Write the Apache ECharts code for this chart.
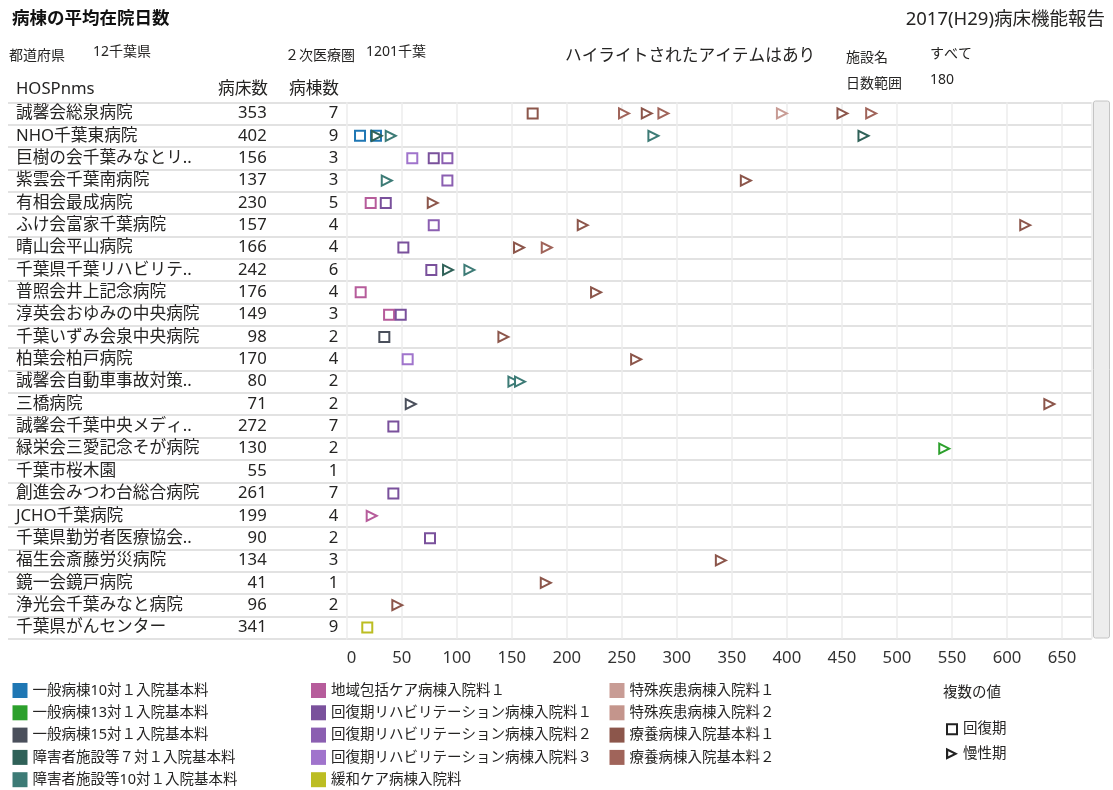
<!DOCTYPE html>
<html>
<head>
<meta charset="utf-8">
<script src="https://cdn.jsdelivr.net/npm/echarts@6/dist/echarts.min.js"></script>
<style>
  html, body { margin: 0; padding: 0; background: #fff; }
  #chart { width: 1113px; height: 790px; }
</style>
</head>
<body>
<div id="chart"></div>
<script>
// 施設一覧（表の行）
var hospitals = ['誠馨会総泉病院', 'NHO千葉東病院', '巨樹の会千葉みなとリ..', '紫雲会千葉南病院', '有相会最成病院',
  'ふけ会富家千葉病院', '晴山会平山病院', '千葉県千葉リハビリテ..', '普照会井上記念病院', '淳英会おゆみの中央病院',
  '千葉いずみ会泉中央病院', '柏葉会柏戸病院', '誠馨会自動車事故対策..', '三橋病院', '誠馨会千葉中央メディ..',
  '緑栄会三愛記念そが病院', '千葉市桜木園', '創進会みつわ台総合病院', 'JCHO千葉病院', '千葉県勤労者医療協会..',
  '福生会斎藤労災病院', '鏡一会鏡戸病院', '浄光会千葉みなと病院', '千葉県がんセンター']
var bedCounts = [353, 402, 156, 137, 230, 157, 166, 242, 176, 149, 98, 170, 80, 71, 272, 130, 55, 261, 199, 90, 134, 41, 96, 341]
var wardCounts = [7, 9, 3, 3, 5, 4, 4, 6, 4, 3, 2, 4, 2, 2, 7, 2, 1, 7, 4, 2, 3, 1, 2, 9]

// 入院料の区分と色
var categories = ['一般病棟10対１入院基本料', '一般病棟13対１入院基本料', '一般病棟15対１入院基本料',
  '障害者施設等７対１入院基本料', '障害者施設等10対１入院基本料', '地域包括ケア病棟入院料１',
  '回復期リハビリテーション病棟入院料１', '回復期リハビリテーション病棟入院料２', '回復期リハビリテーション病棟入院料３',
  '緩和ケア病棟入院料', '特殊疾患病棟入院料１', '特殊疾患病棟入院料２', '療養病棟入院基本料１', '療養病棟入院基本料２']
var categoryColors = ['#1f77b4', '#2ca02c', '#4a4f5b', '#2f6158', '#3d7b76', '#b65c9b',
  '#7a519c', '#8b5fb1', '#a074cc', '#bcbd22', '#c89c95', '#c4958c', '#8c564b', '#a0645a']

var phases = ['回復期', '慢性期']

// [平均在院日数, 施設番号, 0=回復期 1=慢性期]
var ippan10 = [[12.1, 1, 0], [26.6, 1, 0]]
var ippan13 = [[543, 15, 1]]
var ippan15 = [[34.2, 10, 0], [58.2, 13, 1]]
var shogai7 = [[27.3, 1, 1], [469.6, 1, 1], [92.1, 7, 1]]
var shogai10 = [[40, 1, 1], [278.7, 1, 1], [36.4, 3, 1], [111.5, 7, 1], [151.5, 12, 1], [157.5, 12, 1]]
var chiiki1 = [[21.8, 4, 0], [12.7, 8, 0], [38.5, 9, 0], [22.7, 18, 1]]
var kaifuku1 = [[79.1, 2, 0], [35.5, 4, 0], [51.5, 6, 0], [76.9, 7, 0], [49.1, 9, 0], [42.4, 14, 0], [42.4, 17, 0], [75.7, 19, 0]]
var kaifuku2 = [[91.5, 2, 0], [91.5, 3, 0], [79.1, 5, 0]]
var kaifuku3 = [[59.6, 2, 0], [55.4, 11, 0]]
var kanwa = [[18.7, 23, 0]]
var tokushu1 = [[395.5, 0, 1]]
var tokushu2 = []
var ryoyo1 = [[169, 0, 0], [272.7, 0, 1], [450.5, 0, 1], [362.7, 3, 1], [78.2, 4, 1], [214.5, 5, 1], [616.6, 5, 1],
  [156.6, 6, 1], [226.6, 8, 1], [142.4, 10, 1], [263, 11, 1], [638.5, 13, 1], [340, 20, 1], [180.9, 21, 1], [46, 22, 1]]
var ryoyo2 = [[252, 0, 1], [287.8, 0, 1], [476.6, 0, 1], [181.8, 6, 1]]

var pointSets = [ippan10, ippan13, ippan15, shogai7, shogai10, chiiki1, kaifuku1, kaifuku2, kaifuku3,
  kanwa, tokushu1, tokushu2, ryoyo1, ryoyo2]

var FONT = 'Noto Sans, Noto Sans CJK JP, sans-serif'
var TEXT = '#252423'
var squareIcon = 'path://M0,0H12V12H0Z M2,2V10H10V2Z'
var triangleIcon = 'path://M0,0L12,6L0,12Z M2.2,3.4V8.6L7.4,6Z'

var chart = echarts.init(document.getElementById('chart'))

var series = categories.map(function (name, i) {
  return {
    name: name,
    type: 'scatter',
    xAxisIndex: 1,
    yAxisIndex: 1,
    symbol: 'rect',
    itemStyle: { color: categoryColors[i], opacity: 1 },
    emphasis: { disabled: true },
    data: pointSets[i].map(function (p) {
      if (p[2] === 0) {
        return { value: [p[0], hospitals[p[1]]], symbol: 'emptyRect', symbolSize: 10 }
      }
      return { value: [p[0], hospitals[p[1]]], symbol: 'emptyTriangle', symbolSize: 10, symbolRotate: -90 }
    })
  }
})
phases.forEach(function (name) {
  series.push({ name: name, type: 'scatter', xAxisIndex: 1, yAxisIndex: 1, itemStyle: { color: '#222', opacity: 1 }, data: [] })
})

function text(str, x, y, size, opts) {
  opts = opts || {}
  return {
    type: 'text',
    x: x,
    y: y,
    style: {
      text: str,
      font: (opts.bold ? 'bold ' : '') + size + 'px ' + FONT,
      fill: opts.color || TEXT,
      align: opts.align || 'left',
      verticalAlign: 'middle'
    }
  }
}

function legendBlock(names, left) {
  return {
    orient: 'vertical',
    left: left,
    top: 683,
    icon: 'rect',
    itemWidth: 15,
    itemHeight: 15,
    itemGap: 7.3,
    padding: 0,
    selectedMode: false,
    itemStyle: { borderWidth: 0 },
    textStyle: { fontFamily: FONT, fontSize: 14.5, color: TEXT },
    data: names
  }
}

// 表の列（施設名・病床数・病棟数）を描く左側のカテゴリ軸
function tableAxis(margin, align, fmt) {
  return {
    gridIndex: 1,
    type: 'category',
    position: 'left',
    offset: 0,
    inverse: true,
    data: hospitals,
    axisLine: { show: false },
    axisTick: { show: false },
    axisLabel: {
      margin: margin, align: align, interval: 0, fontSize: 16.7, color: TEXT,
      formatter: fmt
    }
  }
}

var splitColor = '#d9d9d9'

var option = {
  animation: false,
  textStyle: { fontFamily: FONT },
  grid: [
    { left: 8, top: 102.3, width: 338.7, height: 536.4, outerBoundsMode: 'none' },
    { left: 346.7, top: 102.3, width: 745, height: 536.4, outerBoundsMode: 'none' }
  ],
  xAxis: [
    { gridIndex: 0, type: 'value', show: false },
    {
      gridIndex: 1,
      type: 'value',
      min: 0,
      max: 677,
      interval: 50,
      axisLine: { show: false },
      axisTick: { show: false },
      splitLine: { lineStyle: { color: '#ececec', width: 1.5 } },
      axisLabel: {
        fontSize: 16.7,
        color: '#333',
        margin: 11,
        alignMinLabel: 'left',
        showMaxLabel: false
      }
    }
  ],
  yAxis: [
    {
      gridIndex: 0,
      type: 'category',
      position: 'left',
      inverse: true,
      data: hospitals,
      axisLine: { show: false },
      axisTick: { show: false },
      axisLabel: { show: false },
      splitLine: { show: true, lineStyle: { color: splitColor, width: 1.5 } }
    },
    {
      gridIndex: 1,
      type: 'category',
      position: 'left',
      offset: 0,
      inverse: true,
      data: hospitals,
      axisLine: { show: false },
      axisTick: { show: false },
      axisLabel: { margin: 330.7, align: 'left', interval: 0, fontSize: 16.7, color: TEXT },
      splitLine: { show: true, lineStyle: { color: splitColor, width: 1.5 } }
    },
    tableAxis(80, 'right', function (v, i) { return String(bedCounts[i]) }),
    tableAxis(8.4, 'right', function (v, i) { return String(wardCounts[i]) })
  ],
  legend: [
    legendBlock(categories.slice(0, 5), 12.5),
    legendBlock(categories.slice(5, 10), 311),
    legendBlock(categories.slice(10, 14), 609.5),
    {
      orient: 'vertical',
      left: 946,
      top: 722,
      itemWidth: 12,
      itemHeight: 12,
      itemGap: 10,
      padding: 0,
      selectedMode: false,
      itemStyle: { borderWidth: 0 },
      textStyle: { fontFamily: FONT, fontSize: 14.5, color: TEXT },
      data: [{ name: phases[0], icon: squareIcon }, { name: phases[1], icon: triangleIcon }]
    }
  ],
  graphic: [
    text('病棟の平均在院日数', 12, 19, 17.5, { bold: true, color: '#111' }),
    text('2017(H29)病床機能報告', 1105, 20, 18.5, { align: 'right' }),
    text('都道府県', 9, 56, 14),
    text('12千葉県', 93, 52, 14),
    text('２次医療圏', 285, 56, 14),
    text('1201千葉', 366, 52, 14),
    text('ハイライトされたアイテムはあり', 565, 56, 16.7),
    text('施設名', 846, 58, 14),
    text('すべて', 930, 54, 14),
    text('日数範囲', 846, 84, 14),
    text('180', 930, 80, 14),
    text('HOSPnms', 16, 89, 16.7),
    text('病床数', 218, 89, 16.7),
    text('病棟数', 289, 89, 16.7),
    text('複数の値', 943, 693, 14.5),
    {
      type: 'rect',
      shape: { x: 1093.5, y: 101, width: 16, height: 537, r: 2 },
      style: { fill: '#ededed', stroke: '#c4c4c4', lineWidth: 1 }
    }
  ],
  series: series
}

chart.setOption(option)
</script>
</body>
</html>
